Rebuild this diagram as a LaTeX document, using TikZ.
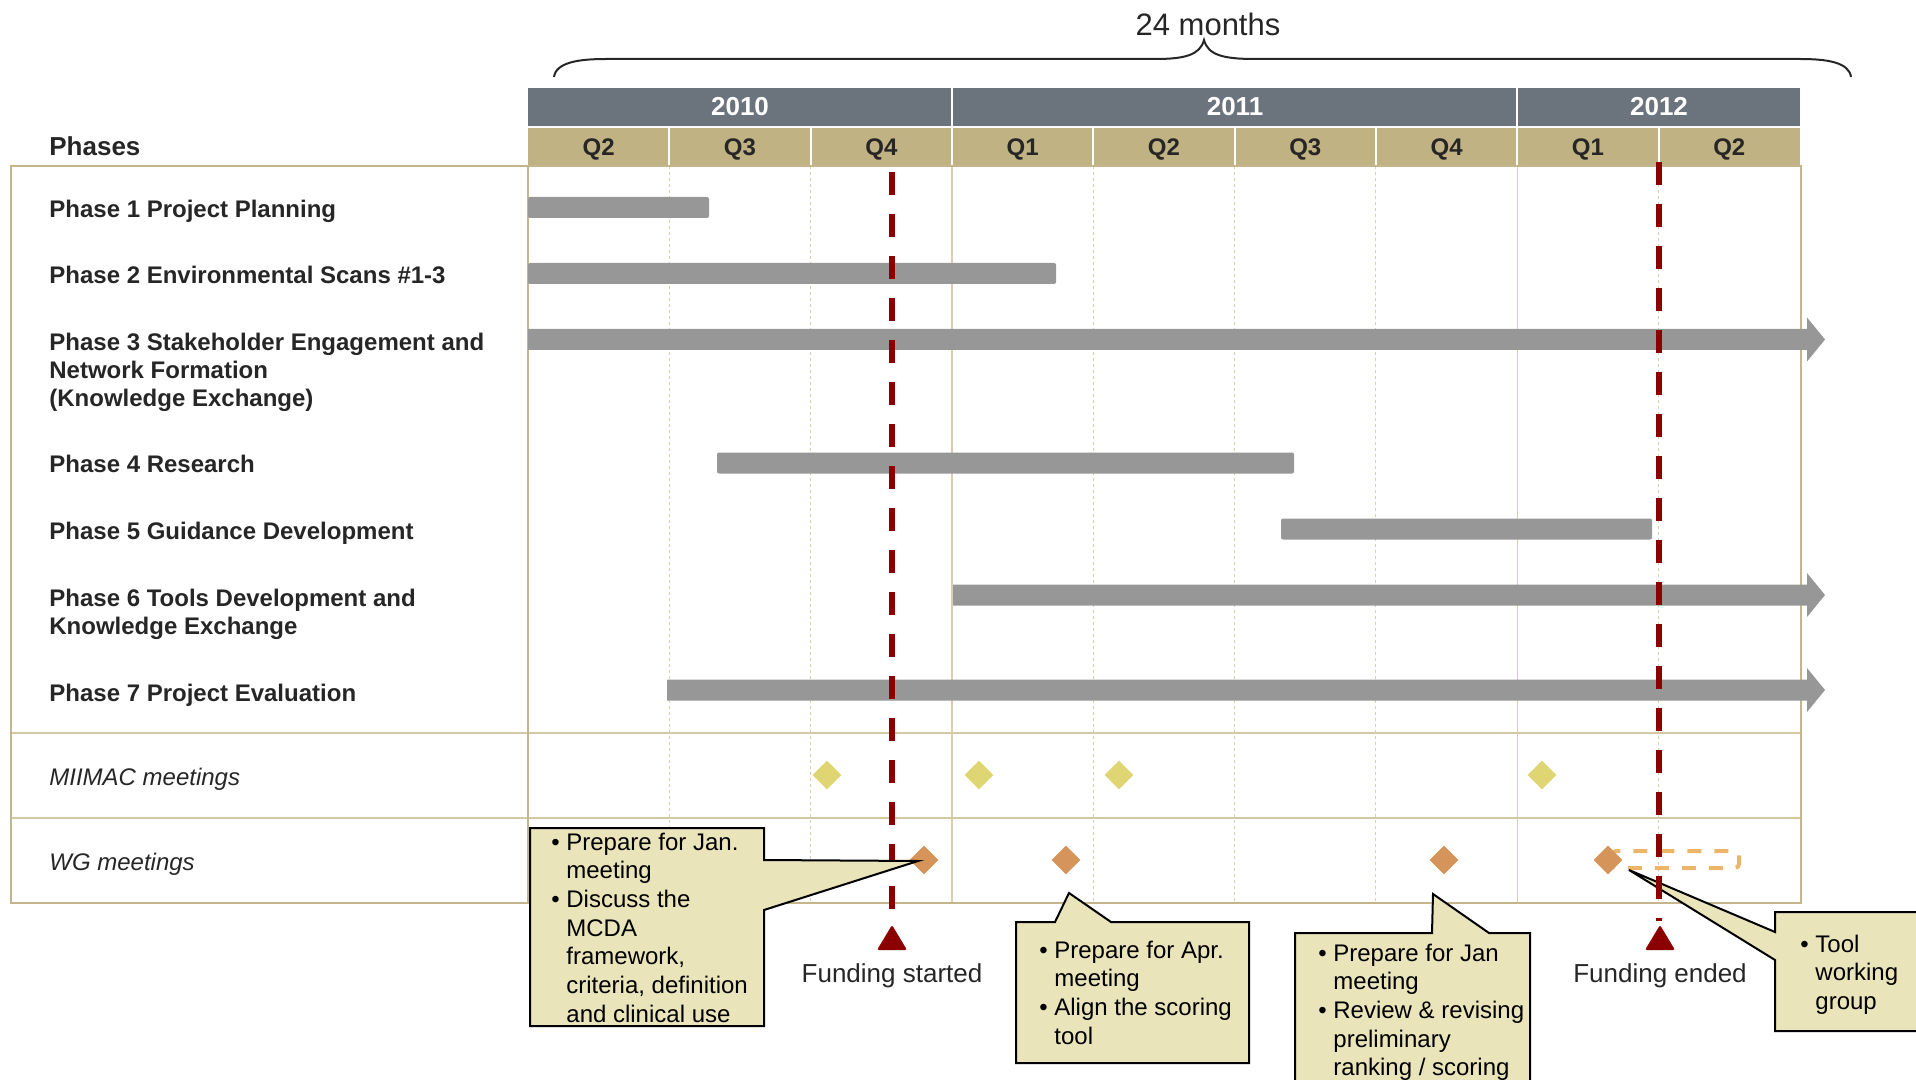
\documentclass[tikz,border=0pt]{standalone}
\usepackage{fontspec}
\setmainfont{Liberation Sans}
\usetikzlibrary{shapes.geometric}

\definecolor{yearband}{HTML}{6B737D}
\definecolor{qband}{HTML}{C0B283}
\definecolor{frametan}{HTML}{C4B68A}
\definecolor{septan}{HTML}{D3C8A3}
\definecolor{gridtan}{HTML}{D9CFAE}
\definecolor{bargray}{HTML}{979797}
\definecolor{fundred}{HTML}{8B0000}
\definecolor{miimac}{HTML}{DFD573}
\definecolor{wgorange}{HTML}{D59459}
\definecolor{tooldash}{HTML}{EDB56A}
\definecolor{notefill}{HTML}{EAE4BA}
\definecolor{inkgray}{HTML}{262626}

\newcommand{\itm}{\makebox[7.5pt][l]{\textbullet}}

\begin{document}
\begin{tikzpicture}[x=0.5pt, y=-0.5pt,
	ganttbar/.style={fill=bargray, rounded corners=1pt},
	gridline/.style={draw=gridtan, line width=0.5pt, dash pattern=on 1.5pt off 1.5pt},
	yearline/.style={draw=gridtan, line width=0.8pt},
	phaselabel/.style={anchor=base west, align=left, inner sep=0pt, text=inkgray, font=\fontsize{12}{14}\selectfont\bfseries},
	rowlabel/.style={anchor=base west, inner sep=0pt, text=inkgray, font=\fontsize{12}{14}\selectfont\itshape},
	yearlabel/.style={anchor=base, inner sep=0pt, text=white, font=\fontsize{13}{15}\selectfont\bfseries},
	qlabel/.style={anchor=base, inner sep=0pt, text=inkgray, font=\fontsize{12}{14}\selectfont\bfseries},
	mmdiamond/.style={diamond, fill=miimac, minimum size=14.5pt, inner sep=0pt},
	wgdiamond/.style={diamond, fill=wgorange, minimum size=14.5pt, inner sep=0pt},
	fundline/.style={draw=fundred, line width=3pt, dash pattern=on 11.5pt off 9.5pt},
	fundlabel/.style={anchor=base, inner sep=0pt, text=inkgray, font=\fontsize{13}{15}\selectfont},
	calloutbox/.style={fill=notefill, draw=black, line width=1pt, line join=miter},
	callouttext/.style={anchor=base west, inner sep=0pt, text=black, font=\fontsize{12}{14.35}\selectfont}]
	\useasboundingbox (0,0) rectangle (1916,1080);
	\clip (0,0) rectangle (1916,1080);

	% span brace
	\draw[inkgray, line width=1pt] (554,77) .. controls (556,62) and (580,59) .. (606,59) -- (1155,59)
	  .. controls (1185,59) and (1200,55) .. (1204,40) .. controls (1208,55) and (1223,59) .. (1255,59)
	  -- (1800,59) .. controls (1826,59) and (1849,62) .. (1851,77);
	\node[anchor=base, inner sep=0pt, text=inkgray, font=\fontsize{15.5}{18}\selectfont] (span) at (1208,36) {24 months};

	% header bands
	\fill[yearband] (528,88) rectangle (1800,126);
	\fill[qband] (528,128) rectangle (1800,165);
	\foreach \i in {3,7}
	  \draw[white, line width=1pt] ({528+141.33*\i},88) -- ({528+141.33*\i},126);
	\foreach \i in {1,...,8}
	  \draw[white, line width=1pt] ({528+141.33*\i},128) -- ({528+141.33*\i},165);
	\node[yearlabel] (y2010) at (740,116) {2010};
	\node[yearlabel] (y2011) at (1235,116) {2011};
	\node[yearlabel] (y2012) at (1659,116) {2012};
	\foreach \q [count=\i from 0] in {Q2,Q3,Q4,Q1,Q2,Q3,Q4,Q1,Q2}
	  \node[qlabel] (q\i) at ({528+141.33*(\i+0.5)},155.5) {\q};
	\node[anchor=base west, inner sep=0pt, text=inkgray, font=\fontsize{13}{15}\selectfont\bfseries] (phases) at (49,156) {Phases};

	% table frame and grid
	\foreach \i in {1,2,4,5,6,8}
	  \draw[gridline] ({528+141.33*\i},166) -- ({528+141.33*\i},903);
	\foreach \i in {3,7}
	  \draw[yearline] ({528+141.33*\i},166) -- ({528+141.33*\i},903);
	\draw[septan, line width=0.8pt] (11,733) -- (1801,733);
	\draw[septan, line width=0.8pt] (11,818) -- (1801,818);
	\draw[frametan, line width=0.8pt] (528,166) -- (528,903);
	\draw[frametan, line width=1pt] (11,166) rectangle (1801,903);

	% phases (multi-line labels sit on their last line)
	\node[phaselabel] (ph1) at (49,218) {Phase 1 Project Planning};
	\node[phaselabel] (ph2) at (49,284) {Phase 2 Environmental Scans \#1-3};
	\node[phaselabel] (ph3) at (49,407) {Phase 3 Stakeholder Engagement and\\Network Formation\\(Knowledge Exchange)};
	\node[phaselabel] (ph4) at (49,473) {Phase 4 Research};
	\node[phaselabel] (ph5) at (49,539) {Phase 5 Guidance Development};
	\node[phaselabel] (ph6) at (49,634) {Phase 6 Tools Development and\\Knowledge Exchange};
	\node[phaselabel] (ph7) at (49,701) {Phase 7 Project Evaluation};

	\foreach \xs/\xe/\yc in {528/709/207.5, 528/1056/273.5, 717/1294/463, 1281/1652/529}
	  \fill[ganttbar] (\xs,\yc-10.5) rectangle (\xe,\yc+10.5);
	\foreach \xs/\yc in {528/339.5, 953/595, 667/690}
	  \fill[bargray] (\xs,\yc-10.5) -- (1807,\yc-10.5) -- (1807,\yc-22) -- (1825,\yc)
	    -- (1807,\yc+22) -- (1807,\yc+10.5) -- (\xs,\yc+10.5) -- cycle;

	% meetings
	\node[rowlabel] (mmlab) at (49,785) {MIIMAC meetings};
	\node[rowlabel] (wglab) at (49,870) {WG meetings};
	\draw[tooldash, line width=2pt, dash pattern=on 7pt off 6.5pt, rounded corners=2pt] (1612,851) rectangle (1739,868);
	\foreach \x [count=\i] in {827,979,1119,1542}
	  \node[mmdiamond] (mm\i) at (\x,775) {};
	\foreach \x [count=\i] in {924,1066,1444,1608}
	  \node[wgdiamond] (wg\i) at (\x,860) {};

	% funding start
	\draw[fundline] (892,172) -- (892,909);
	\fill[fundred, rounded corners=1pt] (892,925) -- (907,950) -- (877,950) -- cycle;
	\node[fundlabel] (fstart) at (892,982) {Funding started};

	% callouts
	\filldraw[calloutbox] (530,828) -- (764,828) -- (764,860) -- (918,861) -- (764,910) -- (764,1026) -- (530,1026) -- cycle;
	\node[callouttext] (note1) at (551,850) {\begin{tabular}[t]{@{}l@{}l@{}}
	  \itm & Prepare for Jan.\\ & meeting\\ \itm & Discuss the\\ & MCDA\\ & framework,\\ & criteria, definition\\ & and clinical use
	  \end{tabular}};
	\filldraw[calloutbox] (1016,922) -- (1055,922) -- (1069,893) -- (1111,922) -- (1249,922) -- (1249,1063) -- (1016,1063) -- cycle;
	\node[callouttext] (note2) at (1039,958) {\begin{tabular}[t]{@{}l@{}l@{}}
	  \itm & Prepare for Apr.\\ & meeting\\ \itm & Align the scoring\\ & tool
	  \end{tabular}};
	\filldraw[calloutbox] (1295,933) -- (1432,933) -- (1433,894) -- (1489,933) -- (1530,933) -- (1530,1100) -- (1295,1100) -- cycle;
	\node[callouttext] (note3) at (1318,961) {\begin{tabular}[t]{@{}l@{}l@{}}
	  \itm & Prepare for Jan\\ & meeting\\ \itm & Review \& revising\\ & preliminary\\ & ranking / scoring
	  \end{tabular}};
	\filldraw[calloutbox] (1775,912) -- (1940,912) -- (1940,1031) -- (1775,1031) -- (1775,960) -- (1629,870) -- (1775,932) -- cycle;
	\node[callouttext] (note4) at (1800,952) {\begin{tabular}[t]{@{}l@{}l@{}}
	  \itm & Tool\\ & working\\ & group
	  \end{tabular}};

	% funding end
	\draw[fundline] (1659,162) -- (1659,921);
	\fill[fundred, rounded corners=1pt] (1660,925) -- (1675,950) -- (1645,950) -- cycle;
	\node[fundlabel] (fend) at (1660,982) {Funding ended};
\end{tikzpicture}
\end{document}
